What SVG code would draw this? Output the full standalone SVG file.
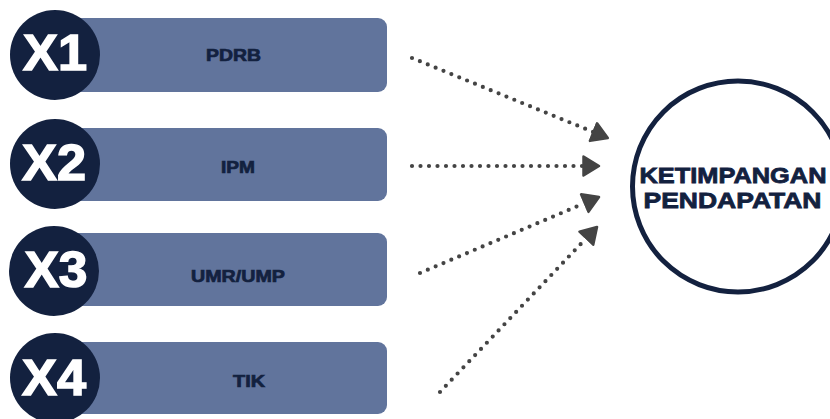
<svg xmlns="http://www.w3.org/2000/svg" width="830" height="419" viewBox="0 0 830 419">
<style>
.box{fill:#61749c}
.badge{fill:#13213f}
.xt{font-family:"Liberation Sans",Arial,sans-serif;font-weight:bold;font-size:50px;fill:#ffffff;stroke:#ffffff;stroke-width:1.5;text-anchor:middle}
.lbl{font-family:"Liberation Sans",Arial,sans-serif;font-weight:bold;font-size:17px;fill:#13213f;stroke:#13213f;stroke-width:0.7;text-anchor:middle}
.tgt{font-family:"Liberation Sans",Arial,sans-serif;font-weight:bold;font-size:22px;fill:#13213f;stroke:#13213f;stroke-width:0.8;text-anchor:middle}
.conn{fill:none;stroke:#444444;stroke-width:4.2;stroke-linecap:round;stroke-dasharray:0 8.5}
</style>
<defs>
<marker id="ah" markerUnits="userSpaceOnUse" markerWidth="22" markerHeight="26" refX="1" refY="11" orient="auto" viewBox="0 0 22 22">
<path d="M1.5 1.5 L17 11 L1.5 20.5 Z" fill="#444444" stroke="#444444" stroke-width="2.5" stroke-linejoin="round"/>
</marker>
</defs>
<rect width="830" height="419" fill="#ffffff"/>
<g id="node-x1">
<rect class="box" x="60" y="18" width="327" height="74" rx="9"/>
<circle class="badge" cx="55" cy="55" r="45"/>
<text class="xt" x="55" y="70" textLength="64" lengthAdjust="spacingAndGlyphs">X1</text>
<text class="lbl" x="233.5" y="61" textLength="55" lengthAdjust="spacingAndGlyphs">PDRB</text>
</g>
<g id="node-x2">
<rect class="box" x="60" y="128" width="327" height="73" rx="9"/>
<circle class="badge" cx="55" cy="164" r="45"/>
<text class="xt" x="54" y="180" textLength="64" lengthAdjust="spacingAndGlyphs">X2</text>
<text class="lbl" x="238" y="173" textLength="34" lengthAdjust="spacingAndGlyphs">IPM</text>
</g>
<g id="node-x3">
<rect class="box" x="60" y="233" width="327" height="73" rx="9"/>
<circle class="badge" cx="54" cy="271" r="45"/>
<text class="xt" x="56" y="287" textLength="63" lengthAdjust="spacingAndGlyphs">X3</text>
<text class="lbl" x="238" y="282" textLength="94" lengthAdjust="spacingAndGlyphs">UMR/UMP</text>
</g>
<g id="node-x4">
<rect class="box" x="60" y="342" width="327" height="72" rx="9"/>
<circle class="badge" cx="55" cy="378" r="45"/>
<text class="xt" x="54" y="395" textLength="64" lengthAdjust="spacingAndGlyphs">X4</text>
<text class="lbl" x="249" y="387" textLength="32" lengthAdjust="spacingAndGlyphs">TIK</text>
</g>
<g id="node-target">
<circle cx="738" cy="186.5" r="105.5" fill="#ffffff" stroke="#13213f" stroke-width="5"/>
<text class="tgt" x="733" y="183" textLength="187" lengthAdjust="spacingAndGlyphs">KETIMPANGAN</text>
<text class="tgt" x="732.5" y="208" textLength="178" lengthAdjust="spacingAndGlyphs">PENDAPATAN</text>
</g>
<g id="connectors">
<line class="conn" x1="412" y1="58" x2="593" y2="131.9" marker-end="url(#ah)"/>
<line class="conn" x1="412" y1="166" x2="583" y2="166" marker-end="url(#ah)"/>
<line class="conn" x1="420" y1="273" x2="584.3" y2="203.3" marker-end="url(#ah)"/>
<line class="conn" x1="440" y1="392" x2="586" y2="238.5" marker-end="url(#ah)"/>
</g>
</svg>
